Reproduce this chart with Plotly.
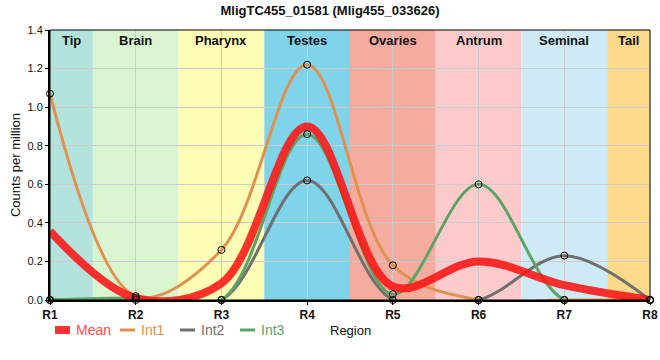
import plotly.graph_objects as go

regions = ["R1", "R2", "R3", "R4", "R5", "R6", "R7", "R8"]
int1 = [1.07, 0.02, 0.26, 1.22, 0.18, 0.0, 0.0, 0.0]
int2 = [0.0, 0.0, 0.0, 0.62, 0.0, 0.0, 0.23, 0.0]
int3 = [0.0, 0.01, 0.0, 0.86, 0.03, 0.60, 0.0, 0.0]
mean = [(a + b + c) / 3 for a, b, c in zip(int1, int2, int3)]

tissues = ["Tip", "Brain", "Pharynx", "Testes", "Ovaries", "Antrum", "Seminal", "Tail"]
tissue_bounds = [(1, 1.5), (1.5, 2.5), (2.5, 3.5), (3.5, 4.5), (4.5, 5.5), (5.5, 6.5), (6.5, 7.5), (7.5, 8)]
tissue_colors = ["#b3e3dd", "#d8f5d0", "#fdfdb6", "#80d4ea", "#f5ab9d", "#fdcbcc", "#ceebf5", "#fdd98b"]

xs = list(range(1, len(regions) + 1))
FONT = "Liberation Sans, Arial, sans-serif"

c_mean = "rgba(255,20,20,0.88)"
c1 = "#e0904f"
c2 = "#6f6f6f"
c3 = "#5ea366"

fig = go.Figure()
for ys, col in [(int1, c1), (int2, c2), (int3, c3)]:
    fig.add_trace(go.Scatter(x=xs, y=ys, mode="lines", line=dict(color=col, width=3, shape="spline"),
                             showlegend=False, hoverinfo="skip"))
fig.add_trace(go.Scatter(x=xs, y=mean, mode="lines", line=dict(color=c_mean, width=8, shape="spline"),
                         showlegend=False))
for ys in (int1, int2, int3):
    fig.add_trace(go.Scatter(x=xs, y=ys, mode="markers", cliponaxis=False,
                             marker=dict(size=7, color="rgba(0,0,0,0)", line=dict(color="black", width=1)),
                             showlegend=False))

shapes = []
annotations = []
for name, (a, b), col in zip(tissues, tissue_bounds, tissue_colors):
    shapes.append(dict(type="rect", xref="x", yref="y", x0=a, x1=b, y0=0, y1=1.4,
                       fillcolor=col, line=dict(width=0), layer="below"))
    annotations.append(dict(x=(a + b) / 2, y=1.4, xref="x", yref="y", text="<b>%s</b>" % name,
                            showarrow=False, yanchor="top", yshift=-1,
                            font=dict(family=FONT, size=13, color="#111")))
# top/right frame
shapes.append(dict(type="rect", xref="paper", yref="paper", x0=0, x1=1, y0=0, y1=1,
                   line=dict(color="black", width=1), layer="above"))

# manual legend
leg = [("Mean", c_mean, 8, "#ff4d4d", 55), ("Int1", c1, 3, c1, 120), ("Int2", c2, 3, c2, 180), ("Int3", c3, 3, c3, 240)]
W = 600.0
H = 270.0
for name, col, w, tcol, px in leg:
    x0 = (px - 50) / W
    x1 = (px + 15 - 50) / W
    yy = (300 - 330) / H
    shapes.append(dict(type="line", xref="paper", yref="paper", x0=x0, x1=x1, y0=yy, y1=yy,
                       line=dict(color=col, width=w)))
    annotations.append(dict(x=(px + 19 - 50) / W, y=yy, xref="paper", yref="paper", text=name,
                            showarrow=False, xanchor="left", yanchor="middle",
                            font=dict(family=FONT, size=14, color=tcol)))

annotations.append(dict(x=0.5, y=(300 - 331) / H, xref="paper", yref="paper", text="Region",
                        showarrow=False, xanchor="center", yanchor="middle",
                        font=dict(family=FONT, size=13, color="#111")))

fig.update_layout(
    width=660, height=360,
    margin=dict(l=50, r=10, t=30, b=60, autoexpand=False),
    paper_bgcolor="white", plot_bgcolor="white",
    title=dict(text="<b>MligTC455_01581 (Mlig455_033626)</b>", x=0.5, xanchor="center", y=0.972, yanchor="middle",
               font=dict(family=FONT, size=13, color="#111")),
    shapes=shapes, annotations=annotations,
    showlegend=False,
    font=dict(family=FONT),
)
fig.update_xaxes(range=[1, 8], tickvals=xs, ticktext=["<b>%s</b>" % r for r in regions],
                 showgrid=True, gridcolor="#cccccc", gridwidth=1, automargin=False,
                 showline=True, linecolor="black", linewidth=2, ticks="outside", ticklen=3, tickcolor="black",
                 tickfont=dict(family=FONT, size=12, color="#111"), zeroline=False)
fig.update_yaxes(range=[0, 1.4], tickvals=[0, 0.2, 0.4, 0.6, 0.8, 1.0, 1.2, 1.4], tickformat=".1f",
                 showgrid=True, gridcolor="#cccccc", gridwidth=1, automargin=False,
                 showline=True, linecolor="black", linewidth=2, ticks="outside", ticklen=3, tickcolor="black",
                 tickfont=dict(family=FONT, size=11, color="#111"), zeroline=False,
                 title=dict(text="Counts per million", font=dict(family=FONT, size=13, color="#111"), standoff=4))

fig.write_html("out.html", config={"displayModeBar": False},
               post_script="document.body.style.margin='0';")
